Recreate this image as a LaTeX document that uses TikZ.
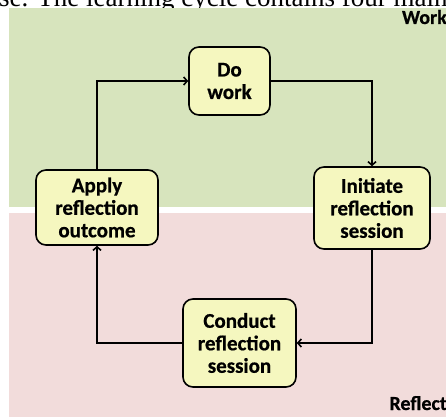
\documentclass[tikz,border=0pt]{standalone}
\usepackage{fontspec}
\setmainfont{Carlito}[BoldFeatures={FakeBold=0.6}]
\newfontfamily\serifdoc{Liberation Serif}
\usetikzlibrary{arrows.meta}
\definecolor{workbg}{HTML}{D7E4BD}
\definecolor{reflbg}{HTML}{F2DCDB}
\definecolor{boxfill}{HTML}{F5F7BF}
\tikzset{
  stepbox/.style={draw=black, line width=1.6pt, fill=boxfill, rounded corners=10pt,
    font=\fontsize{21}{22.5}\selectfont\bfseries, align=center, inner sep=0pt},
  flow/.style={draw=black, line width=1.6pt, -{Straight Barb[length=3.5pt,width=8pt,line width=1.6pt]}},
  phaselabel/.style={font=\fontsize{20}{22}\selectfont\bfseries, inner sep=0pt}
}
\begin{document}
\begin{tikzpicture}[x=1pt,y=-1pt]
\useasboundingbox (0,0) rectangle (446,417);
\clip (0,0) rectangle (446,417);
\fill[white] (0,0) rectangle (446,417);
\node[anchor=base west, inner sep=0pt, font=\serifdoc\fontsize{27}{29}\selectfont] (toptext) at (-1,6.5) {se. The learning cycle contains four main};
\fill[workbg] (9,8.5) rectangle (446,206.5);
\fill[reflbg] (9,212.5) rectangle (446,417);
\node[phaselabel, anchor=base east] (work) at (447,24) {Work};
\node[phaselabel, anchor=base east] (reflect) at (447,410) {Reflect};
\node[stepbox, minimum width=81pt, minimum height=68pt] (do) at (229.5,81) {Do\\work};
\node[stepbox, minimum width=116pt, minimum height=82pt] (init) at (372,208) {Initiate\\reflection\\session};
\node[stepbox, minimum width=113pt, minimum height=88pt] (cond) at (239.5,343) {Conduct\\reflection\\session};
\node[stepbox, minimum width=122pt, minimum height=75pt] (apply) at (97,207.5) {Apply\\reflection\\outcome};
\draw[flow] (apply.north) |- (do.west);
\draw[flow] (do.east) -| (init.north);
\draw[flow] (init.south) |- (cond.east);
\draw[flow] (cond.west) -| (apply.south);
\end{tikzpicture}
\end{document}
